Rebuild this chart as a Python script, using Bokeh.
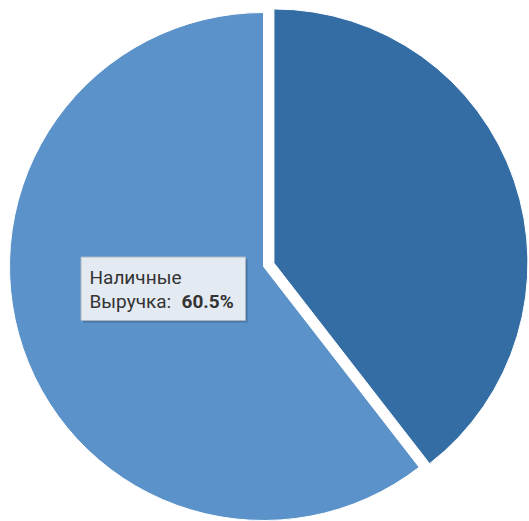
import math
from bokeh.plotting import figure
from bokeh.models import Range1d, ColumnDataSource
from bokeh.core.properties import value
from bokeh.embed import file_html
from bokeh.resources import INLINE

# ---- data ----
categories = ["Безналичные", "Наличные"]
shares = [39.5, 60.5]
colors = ["#346ca4", "#5a92c9"]
explode = [11, 0]
tooltip_series = "Выручка"
tooltip_index = 1

W, H = 529, 521
p = figure(width=W, height=H, output_backend="svg", toolbar_location=None,
           x_range=Range1d(0, W), y_range=Range1d(0, H), min_border=0,
           outline_line_color=None, background_fill_color="white",
           border_fill_color="white")
p.axis.visible = False
p.grid.visible = False

cx, cy, r = 263, H - 266, 254
total = sum(shares)
start = math.pi / 2
xs, ys, sa, ea = [], [], [], []
for s, e in zip(shares, explode):
    ang = 2 * math.pi * s / total
    mid = start - ang / 2
    xs.append(cx + e * math.cos(mid))
    ys.append(cy + e * math.sin(mid))
    sa.append(start)
    ea.append(start - ang)
    start -= ang

src = ColumnDataSource(dict(x=xs, y=ys, sa=sa, ea=ea, color=colors, cat=categories))
p.wedge(x="x", y="y", radius=r, radius_units="screen", start_angle="sa", end_angle="ea",
        direction="clock", fill_color="color", line_color="white", line_width=1, source=src)

# tooltip
bx0, bx1, by0, by1 = 80.5, 245, H - 320, H - 256.5
p.quad(left=bx0 + 2, right=bx1 + 2, bottom=by0 - 2, top=by1 - 2,
       fill_color="#000000", fill_alpha=0.18, line_color=None)
p.quad(left=bx0, right=bx1, bottom=by0, top=by1,
       fill_color="#e4eaf2", line_color="#aab6c4", line_width=1)
font = value("Roboto")
p.text(x=[89], y=[H - 277], text=[categories[tooltip_index]], text_font=font,
       text_font_size="19px", text_color="#333333", text_baseline="alphabetic")
p.text(x=[89], y=[H - 301], text=[tooltip_series + ": "], text_font=font,
       text_font_size="19px", text_color="#333333", text_baseline="alphabetic")
p.text(x=[181], y=[H - 301], text=["%.1f%%" % shares[tooltip_index]], text_font=font,
       text_font_size="19px", text_font_style="bold", text_color="#333333",
       text_baseline="alphabetic")

open("out.html", "w").write(file_html(p, INLINE))
